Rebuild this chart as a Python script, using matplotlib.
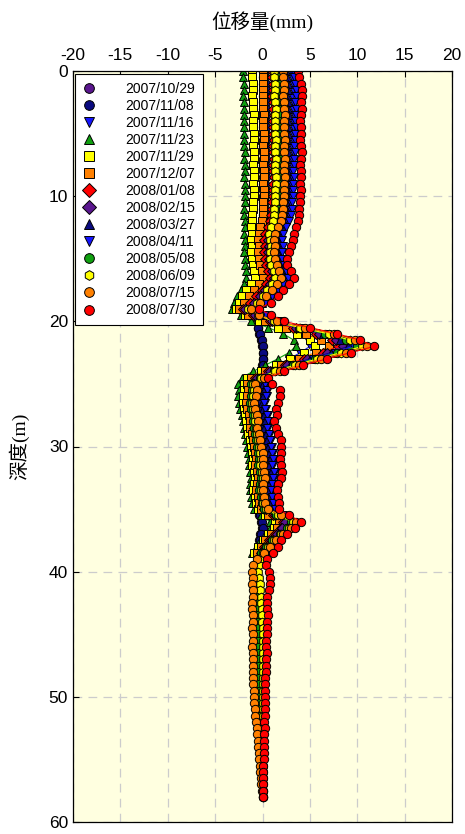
import numpy as np
import matplotlib
matplotlib.use('Agg')
import matplotlib.pyplot as plt

# inclinometer stations (m), every 0.5 m
depth_short = np.arange(0, 38.6, 0.5)
depth_long = np.arange(0, 58.1, 0.5)

dates = ['2007/10/29', '2007/11/08', '2007/11/16', '2007/11/23', '2007/11/29',
         '2007/12/07', '2008/01/08', '2008/02/15', '2008/03/27', '2008/04/11',
         '2008/05/08', '2008/06/09', '2008/07/15', '2008/07/30']

# displacement (mm) per survey
d_071029 = [
    0.0, 0.0, 0.1, 0.1, 0.0, 0.1, 0.1, 0.1, 0.0, 0.1,
    0.1, 0.1, 0.0, 0.1, 0.1, 0.0, 0.1, 0.1, 0.0, 0.1,
    0.0, 0.0, 0.0, 0.0, -0.1, -0.1, -0.2, -0.2, -0.1, -0.2,
    -0.2, -0.1, 0.0, 0.0, -0.2, -0.3, -0.5, -0.6, -0.7, -0.6,
    -0.5, -0.5, -0.4, -0.2, -0.1, 0.0, 0.0, -0.1, -0.2, -0.3,
    -0.4, -0.3, -0.4, -0.3, -0.2, -0.1, 0.0, 0.0, 0.1, 0.2,
    0.3, 0.3, 0.4, 0.3, 0.4, 0.3, 0.2, 0.1, 0.0, -0.1,
    -0.3, -0.4, -0.2, -0.1, -0.3, -0.4, -0.4, -0.5]
d_071108 = [
    0.3, 0.3, 0.4, 0.4, 0.3, 0.4, 0.4, 0.4, 0.3, 0.4,
    0.4, 0.4, 0.3, 0.4, 0.4, 0.3, 0.4, 0.4, 0.3, 0.4,
    0.3, 0.3, 0.3, 0.2, 0.2, 0.1, 0.0, 0.0, 0.1, 0.0,
    0.0, 0.1, 0.2, 0.2, 0.0, -0.2, -0.4, -0.5, -0.6, -0.5,
    -0.4, -0.5, -0.3, -0.1, 0.0, 0.1, 0.1, 0.0, -0.1, -0.2,
    -0.3, -0.2, -0.3, -0.2, -0.1, 0.0, 0.1, 0.1, 0.2, 0.3,
    0.4, 0.4, 0.5, 0.4, 0.5, 0.4, 0.3, 0.2, 0.1, 0.0,
    -0.2, -0.3, -0.1, 0.0, -0.2, -0.3, -0.3, -0.4]
d_071116 = [
    3.0, 3.1, 3.2, 3.2, 3.1, 3.2, 3.2, 3.3, 3.2, 3.2,
    3.2, 3.2, 3.1, 3.2, 3.1, 3.1, 3.0, 3.1, 3.0, 3.0,
    3.0, 2.9, 2.9, 2.8, 2.6, 2.3, 2.0, 1.9, 2.0, 1.9,
    1.9, 2.1, 2.3, 2.5, 2.0, 1.4, 0.8, 0.1, -0.9, 0.1,
    1.0, 2.6, 4.0, 4.8, 5.0, 4.0, 2.8, 1.6, 0.5, -0.4,
    0.4, 0.6, 0.5, 0.3, 0.4, 0.6, 0.7, 0.6, 0.8, 0.9,
    1.0, 1.1, 1.2, 1.1, 1.3, 1.2, 1.1, 1.0, 1.1, 1.2,
    1.2, 1.6, 2.0, 1.8, 1.4, 1.1, 0.8, 0.5]
d_071123 = [
    -2.1, -2.1, -2.0, -2.0, -2.1, -2.0, -2.0, -1.9, -2.0, -1.9,
    -1.9, -1.9, -1.9, -1.8, -1.9, -1.8, -1.8, -1.9, -1.8, -1.8,
    -1.8, -1.8, -1.9, -1.9, -1.8, -1.8, -1.9, -1.8, -1.8, -1.9,
    -1.8, -1.8, -1.7, -1.7, -1.9, -2.3, -2.7, -3.0, -3.2, -2.3,
    -1.2, 0.6, 2.2, 3.3, 3.5, 2.8, 1.6, 0.3, -1.0, -2.2,
    -2.6, -2.5, -2.6, -2.5, -2.4, -2.2, -2.1, -2.0, -1.8, -1.7,
    -1.6, -1.5, -1.4, -1.4, -1.3, -1.2, -1.3, -1.3, -1.2, -1.1,
    -0.9, -0.2, 0.8, 0.8, 0.3, -0.3, -0.7, -1.1]
d_071129 = [
    -1.1, -1.1, -1.0, -1.0, -1.1, -1.0, -1.0, -0.9, -1.0, -1.0,
    -0.9, -0.9, -1.0, -0.9, -0.9, -1.0, -0.9, -0.9, -1.0, -0.9,
    -0.9, -1.0, -1.0, -1.1, -1.1, -1.2, -1.1, -1.2, -1.1, -1.2,
    -1.1, -1.0, -0.9, -0.8, -1.2, -1.7, -2.2, -2.5, -2.8, -1.8,
    -0.4, 1.6, 3.6, 5.0, 5.5, 4.4, 2.9, 1.4, -0.2, -1.6,
    -2.0, -2.0, -2.1, -2.1, -2.0, -1.8, -1.7, -1.6, -1.5, -1.3,
    -1.2, -1.1, -1.0, -1.1, -0.9, -0.8, -0.9, -1.0, -0.8, -0.7,
    -0.5, 0.3, 1.3, 1.2, 0.6, 0.0, -0.5, -0.9]
d_071207 = [
    0.0, 0.0, 0.1, 0.1, 0.0, 0.1, 0.1, 0.2, 0.1, 0.1,
    0.2, 0.2, 0.1, 0.2, 0.2, 0.1, 0.2, 0.2, 0.1, 0.2,
    0.2, 0.1, 0.1, 0.0, -0.1, -0.3, -0.4, -0.5, -0.4, -0.5,
    -0.4, -0.3, -0.1, 0.0, -0.4, -0.9, -1.4, -1.9, -2.5, -1.5,
    0.3, 2.5, 4.6, 6.2, 7.0, 5.6, 3.8, 2.0, 0.3, -1.2,
    -1.6, -1.5, -1.6, -1.7, -1.6, -1.4, -1.3, -1.3, -1.1, -1.0,
    -0.9, -0.8, -0.7, -0.8, -0.6, -0.5, -0.6, -0.7, -0.5, -0.4,
    -0.2, 0.6, 1.7, 1.5, 0.9, 0.3, -0.2, -0.6]
d_080108 = [
    1.0, 1.0, 1.1, 1.1, 1.0, 1.1, 1.1, 1.2, 1.1, 1.1,
    1.1, 1.2, 1.1, 1.1, 1.2, 1.1, 1.1, 1.2, 1.1, 1.1,
    1.1, 1.0, 1.0, 0.9, 0.8, 0.6, 0.3, 0.2, 0.3, 0.2,
    0.3, 0.4, 0.6, 0.8, 0.4, -0.1, -0.7, -1.3, -2.1, -1.0,
    0.8, 3.2, 5.6, 7.3, 8.0, 6.4, 4.4, 2.4, 0.6, -0.8,
    -1.1, -1.0, -1.1, -1.2, -1.1, -0.9, -0.8, -0.9, -0.7, -0.6,
    -0.5, -0.4, -0.3, -0.4, -0.2, -0.1, -0.2, -0.3, -0.1, 0.0,
    0.2, 1.1, 2.2, 1.9, 1.3, 0.7, 0.2, -0.2]
d_080215 = [
    1.4, 1.5, 1.5, 1.6, 1.5, 1.5, 1.6, 1.6, 1.5, 1.6,
    1.5, 1.6, 1.5, 1.5, 1.6, 1.5, 1.5, 1.6, 1.5, 1.5,
    1.5, 1.4, 1.4, 1.3, 1.2, 1.0, 0.7, 0.6, 0.7, 0.6,
    0.7, 0.8, 1.0, 1.2, 0.8, 0.3, -0.3, -0.9, -1.8, -0.8,
    1.0, 3.5, 6.0, 7.8, 8.5, 6.8, 4.7, 2.6, 0.8, -0.6,
    -0.9, -0.8, -0.9, -1.0, -0.9, -0.7, -0.6, -0.7, -0.5, -0.4,
    -0.3, -0.2, -0.1, -0.2, 0.0, 0.1, 0.0, -0.1, 0.1, 0.2,
    0.4, 1.3, 2.4, 2.1, 1.5, 0.9, 0.4, 0.0]
d_080327 = [
    2.5, 2.6, 2.7, 2.7, 2.6, 2.7, 2.7, 2.8, 2.7, 2.7,
    2.7, 2.7, 2.6, 2.7, 2.6, 2.6, 2.6, 2.7, 2.6, 2.6,
    2.6, 2.5, 2.5, 2.4, 2.2, 1.9, 1.6, 1.5, 1.6, 1.5,
    1.6, 1.8, 2.0, 2.2, 1.8, 1.2, 0.6, -0.1, -1.0, 0.0,
    1.6, 3.9, 6.4, 8.2, 9.0, 7.2, 5.0, 2.9, 1.0, -0.4,
    0.0, 0.2, 0.1, -0.1, 0.0, 0.2, 0.3, 0.2, 0.4, 0.5,
    0.6, 0.7, 0.8, 0.7, 0.9, 0.8, 0.7, 0.6, 0.7, 0.8,
    1.0, 1.9, 2.9, 2.5, 1.8, 1.2, 0.7, 0.3]
d_080411 = [
    3.2, 3.3, 3.4, 3.5, 3.5, 3.4, 3.5, 3.5, 3.4, 3.5,
    3.4, 3.4, 3.3, 3.4, 3.3, 3.3, 3.2, 3.3, 3.2, 3.2,
    3.2, 3.1, 3.1, 3.0, 2.8, 2.5, 2.2, 2.1, 2.2, 2.1,
    2.1, 2.3, 2.5, 2.7, 2.2, 1.6, 1.0, 0.3, -0.8, 0.3,
    1.8, 4.2, 6.8, 8.6, 9.5, 7.6, 5.3, 3.1, 1.2, -0.2,
    0.3, 0.5, 0.4, 0.2, 0.3, 0.5, 0.6, 0.5, 0.7, 0.8,
    0.9, 1.0, 1.1, 1.0, 1.2, 1.1, 1.0, 0.9, 1.0, 1.1,
    1.3, 2.2, 3.2, 2.8, 2.1, 1.5, 1.0, 0.6]
d_080508 = [
    1.6, 1.6, 1.7, 1.7, 1.6, 1.7, 1.7, 1.8, 1.7, 1.7,
    1.7, 1.8, 1.7, 1.7, 1.8, 1.7, 1.7, 1.8, 1.7, 1.7,
    1.7, 1.6, 1.6, 1.5, 1.4, 1.2, 1.0, 1.0, 1.1, 1.0,
    1.1, 1.2, 1.4, 1.6, 1.2, 0.7, 0.2, -0.4, -1.3, -0.3,
    1.3, 3.8, 6.6, 8.8, 10.0, 7.9, 5.5, 3.2, 1.2, -0.3,
    -1.2, -1.1, -1.2, -1.3, -1.2, -1.0, -1.0, -0.9, -0.8, -0.7,
    -0.6, -0.5, -0.4, -0.5, -0.3, -0.2, -0.3, -0.4, -0.2, -0.1,
    0.2, 1.4, 3.0, 2.6, 1.8, 1.0, 0.4, -0.2, -0.5, -0.6,
    -0.6, -0.6, -0.6, -0.5, -0.5, -0.5, -0.5, -0.5, -0.5, -0.5,
    -0.5, -0.5, -0.5, -0.4, -0.4, -0.4, -0.4, -0.4, -0.4, -0.4,
    -0.4, -0.4, -0.3, -0.3, -0.3, -0.3, -0.3, -0.2, -0.2, -0.2,
    -0.2, -0.2, -0.1, -0.1, -0.1, 0.0, 0.0]
d_080609 = [
    1.2, 1.2, 1.3, 1.3, 1.2, 1.3, 1.4, 1.3, 1.3, 1.3,
    1.3, 1.4, 1.3, 1.3, 1.4, 1.3, 1.3, 1.4, 1.4, 1.3,
    1.3, 1.3, 1.2, 1.2, 1.1, 0.9, 0.7, 0.8, 0.9, 0.8,
    0.8, 0.9, 1.2, 1.3, 1.0, 0.5, 0.0, -0.6, -1.5, -0.5,
    1.2, 4.0, 7.0, 9.2, 10.5, 8.3, 5.8, 3.4, 1.3, -0.2,
    -1.0, -0.9, -1.0, -1.1, -1.0, -0.8, -0.8, -0.7, -0.6, -0.5,
    -0.4, -0.3, -0.2, -0.3, -0.1, 0.0, -0.1, -0.2, 0.0, 0.1,
    0.4, 1.6, 3.2, 2.8, 2.0, 1.2, 0.6, 0.0, -0.3, -0.4,
    -0.5, -0.4, -0.3, -0.3, -0.2, -0.2, -0.1, -0.1, -0.1, 0.0,
    0.0, 0.0, 0.0, 0.1, 0.0, 0.0, 0.1, 0.1, 0.0, 0.1,
    0.1, 0.1, 0.1, 0.1, 0.1, 0.1, 0.1, 0.1, 0.1, 0.1,
    0.1, 0.1, 0.1, 0.1, 0.1, 0.1, 0.1]
d_080715 = [
    2.2, 2.2, 2.3, 2.3, 2.2, 2.3, 2.3, 2.4, 2.3, 2.3,
    2.3, 2.4, 2.3, 2.3, 2.4, 2.3, 2.3, 2.4, 2.3, 2.3,
    2.3, 2.2, 2.2, 2.1, 2.0, 1.6, 1.3, 1.2, 1.3, 1.2,
    1.3, 1.5, 1.7, 1.9, 1.5, 1.0, 0.4, -0.3, -1.2, -0.4,
    1.5, 4.5, 7.5, 9.8, 11.0, 8.8, 6.2, 3.8, 1.8, 0.2,
    -0.8, -0.6, -0.7, -0.9, -0.8, -0.6, -0.5, -0.6, -0.4, -0.3,
    -0.2, 0.0, 0.1, 0.0, 0.2, 0.3, 0.1, 0.0, 0.2, 0.3,
    0.6, 2.0, 3.5, 3.0, 2.2, 1.4, 0.8, 0.2, -0.6, -1.0,
    -1.1, -1.0, -1.1, -1.0, -1.0, -1.1, -1.1, -1.0, -1.0, -1.1,
    -1.0, -1.0, -1.1, -1.0, -1.0, -1.0, -1.0, -1.0, -1.0, -0.9,
    -0.9, -0.9, -0.8, -0.8, -0.7, -0.6, -0.6, -0.5, -0.5, -0.4,
    -0.4, -0.3, -0.3, -0.2, -0.2, -0.1, 0.0]
d_080730 = [
    3.7, 3.9, 4.1, 4.2, 4.2, 4.1, 4.2, 4.1, 4.0, 4.1,
    4.1, 4.0, 4.1, 4.2, 4.1, 4.0, 4.1, 4.1, 4.0, 4.1,
    4.0, 4.0, 3.9, 3.8, 3.7, 3.5, 3.3, 3.2, 3.0, 2.8,
    2.6, 2.6, 3.0, 3.3, 2.8, 2.2, 1.6, 0.9, -0.4, 0.9,
    2.3, 5.0, 7.9, 10.3, 11.8, 9.3, 6.8, 4.3, 2.3, 0.6,
    1.0, 1.8, 1.8, 1.6, 1.4, 1.5, 1.2, 1.4, 1.6, 1.9,
    2.0, 1.9, 1.8, 2.0, 2.1, 1.9, 1.6, 1.5, 1.6, 1.7,
    1.7, 2.8, 4.1, 3.4, 2.6, 2.0, 1.6, 1.1, 0.5, 0.4,
    0.7, 0.8, 0.8, 0.7, 0.5, 0.5, 0.5, 0.6, 0.5, 0.5,
    0.5, 0.4, 0.4, 0.5, 0.4, 0.4, 0.4, 0.3, 0.3, 0.3,
    0.3, 0.3, 0.3, 0.3, 0.2, 0.3, 0.2, 0.2, 0.2, 0.2,
    0.2, 0.1, 0.1, 0.1, 0.1, 0.0, 0.0]

series = [d_071029, d_071108, d_071116, d_071123, d_071129, d_071207, d_080108,
          d_080215, d_080327, d_080411, d_080508, d_080609, d_080715, d_080730]
markers = ['o', 'o', 'v', '^', 's', 's', 'D', 'D', '^', 'v', 'o', 'h', 'o', 'o']
colors = ['#5a168e', '#0a0a80', '#1414ff', '#10a010', '#ffff00', '#ff8000', '#ff0000',
          '#5a168e', '#0a0a80', '#1414ff', '#10a010', '#ffff00', '#ff8000', '#ff0000']
msizes = [6, 6, 6, 6, 5.5, 5.5, 5, 5, 6, 6, 6, 6.3, 6, 6]

plt.rcParams['font.family'] = ['Liberation Sans', 'Noto Sans CJK TC']
plt.rcParams['axes.unicode_minus'] = False

fig = plt.figure(figsize=(4.65, 8.34), dpi=100)
ax = fig.add_axes([73 / 465, 1 - 822 / 834, 379 / 465, 751 / 834])
ax.set_facecolor('#ffffe0')

for _vs, _mk, _cl, _ms, _lb in zip(series, markers, colors, msizes, dates):
    _dp = depth_long if len(_vs) == len(depth_long) else depth_short
    ax.plot(_vs, _dp, color=_cl, lw=0.8, marker=_mk, markersize=_ms,
            markerfacecolor=_cl, markeredgecolor='black', markeredgewidth=0.7,
            label=_lb)

ax.set_xlim(-20, 20)
ax.set_ylim(60, 0)
ax.set_xticks(range(-20, 21, 5))
ax.set_yticks(range(0, 61, 10))
ax.xaxis.tick_top()
ax.xaxis.set_label_position('top')
ax.tick_params(axis='both', direction='in', labelsize=12.5, length=4, width=0.8)
ax.tick_params(axis='x', pad=6)
ax.grid(True, color='#cccccc', linestyle=(0, (7, 5)), linewidth=0.9)
ax.set_axisbelow(True)
for _sp in ax.spines.values():
    _sp.set_linewidth(0.9)

_lab_font = ['Liberation Serif', 'Noto Sans CJK TC']
ax.set_xlabel('位移量(mm)', fontsize=14, family=_lab_font, labelpad=14)
ax.set_ylabel('深度(m)', fontsize=14, family=_lab_font, labelpad=14)

leg = ax.legend(loc='upper left', bbox_to_anchor=(0.005, 0.996), borderaxespad=0,
                fontsize=10, numpoints=1, handlelength=1.0, handletextpad=2.1,
                labelspacing=0.22, borderpad=0.55, fancybox=False, framealpha=1,
                edgecolor='black')
leg.get_frame().set_linewidth(0.8)
for _h in leg.legend_handles:
    _h.set_linestyle('None')
    _h.set_markersize(7)

fig.savefig('out.png', dpi=100)
